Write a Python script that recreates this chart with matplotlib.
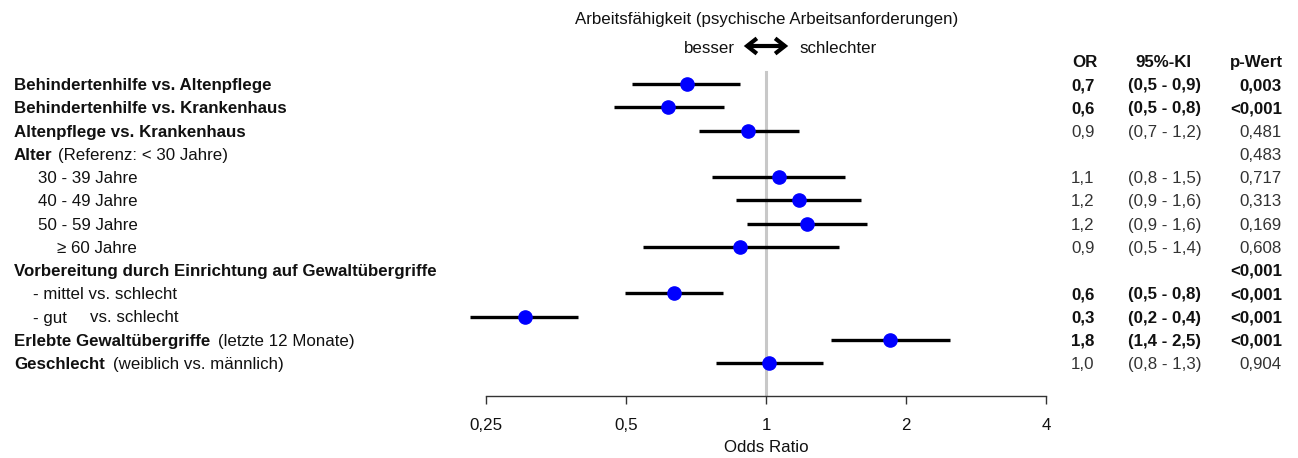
import matplotlib
matplotlib.use('Agg')
import matplotlib.pyplot as plt
import matplotlib.transforms as mtransforms
from matplotlib.patches import FancyArrowPatch
import numpy as np

plt.rcParams['font.family'] = ['Liberation Sans', 'DejaVu Sans']
FS = 12.2

# ---------------- data ----------------
label_bold = ["Behindertenhilfe vs. Altenpflege",
              "Behindertenhilfe vs. Krankenhaus",
              "Altenpflege vs. Krankenhaus",
              "Alter", "", "", "", "",
              "Vorbereitung durch Einrichtung auf Gewaltübergriffe",
              "", "",
              "Erlebte Gewaltübergriffe",
              "Geschlecht"]
label_normal = ["", "", "",
                "(Referenz: < 30 Jahre)",
                "30 - 39 Jahre", "40 - 49 Jahre", "50 - 59 Jahre", "≥ 60 Jahre",
                "",
                "- mittel vs. schlecht", "- gut",
                "(letzte 12 Monate)",
                "(weiblich vs. männlich)"]
label_indent = [14, 14, 14, 14, 38, 38, 38, 57, 14, 33, 33, 14, 14]

nan = np.nan
or_est = [0.675, 0.617, 0.917, nan, 1.064, 1.175, 1.228, 0.881, nan, 0.633, 0.303, 1.852, 1.017]
ci_lo = [0.516, 0.470, 0.716, nan, 0.764, 0.860, 0.912, 0.543, nan, 0.497, 0.231, 1.383, 0.782]
ci_hi = [0.881, 0.814, 1.175, nan, 1.482, 1.604, 1.645, 1.432, nan, 0.810, 0.395, 2.481, 1.323]

or_text = ["0,7", "0,6", "0,9", "", "1,1", "1,2", "1,2", "0,9", "", "0,6", "0,3", "1,8", "1,0"]
ki_text = ["(0,5 - 0,9)", "(0,5 - 0,8)", "(0,7 - 1,2)", "", "(0,8 - 1,5)", "(0,9 - 1,6)",
           "(0,9 - 1,6)", "(0,5 - 1,4)", "", "(0,5 - 0,8)", "(0,2 - 0,4)", "(1,4 - 2,5)", "(0,8 - 1,3)"]
p_text = ["0,003", "<0,001", "0,481", "0,483", "0,717", "0,313", "0,169", "0,608",
          "<0,001", "<0,001", "<0,001", "<0,001", "0,904"]
row_bold = [True, True, False, False, False, False, False, False, True, True, True, True, False]

x_ticks = [0.25, 0.5, 1, 2, 4]
x_ticklabels = ["0,25", "0,5", "1", "2", "4"]

# ---------------- figure ----------------
W, H = 1298, 458
fig = plt.figure(figsize=(W / 100, H / 100), dpi=100)
ax_top_px, ax_bot_px = 60, 396
ax = fig.add_axes([486 / W, (H - ax_bot_px) / H, 560 / W, (ax_bot_px - ax_top_px) / H])
ax.set_xscale('log', base=2)
ax.set_xlim(0.25, 4)
row0_px, step_px = 84, 23.25
ax.set_ylim(1 + (ax_bot_px - row0_px) / step_px, 1 + (ax_top_px - row0_px) / step_px)

rows = np.arange(1, len(or_est) + 1)
TXT = '#111111'

# reference line at OR = 1
ax.axvline(1, ymin=0, ymax=(ax_bot_px - 72) / (ax_bot_px - ax_top_px), color='#c8c8c8', lw=2.2, zorder=1)

ax.hlines(rows, ci_lo, ci_hi, color='black', lw=2.4, zorder=2, clip_on=False)
ax.plot(or_est, rows, 'o', color='#0000ff', ms=9.5, zorder=3, clip_on=False)

for s in ['top', 'right', 'left']:
    ax.spines[s].set_visible(False)
ax.spines['bottom'].set_bounds(0.25, 4)
ax.spines['bottom'].set_color('#333333')
ax.spines['bottom'].set_linewidth(1.0)
ax.set_yticks([])
ax.set_xticks(x_ticks)
ax.set_xticklabels(x_ticklabels, fontsize=FS)
ax.minorticks_off()
ax.tick_params(axis='x', direction='out', length=6, width=1.0, color='#333333', pad=10, labelcolor=TXT)
ax.set_xlabel("Odds Ratio", fontsize=FS, labelpad=5, color=TXT)

blend = mtransforms.blended_transform_factory(fig.transFigure, ax.transData)
renderer = fig.canvas.get_renderer()

# left labels
for r, b, n, ind in zip(rows, label_bold, label_normal, label_indent):
    x = ind / W
    if b:
        t = ax.text(x, r, b, transform=blend, fontsize=FS, fontweight='bold', ha='left',
                    va='center_baseline', color=TXT, clip_on=False)
        if n:
            bb = t.get_window_extent(renderer)
            gap = 5 if b == "Alter" else 8
            ax.text((bb.x1 + gap) / W, r, n, transform=blend, fontsize=FS, ha='left',
                    va='center_baseline', color=TXT, clip_on=False)
    else:
        ax.text(x, r, n, transform=blend, fontsize=FS, ha='left', va='center_baseline',
                color=TXT, clip_on=False)
# aligned "vs. schlecht" for the "- gut" row
ax.text(90 / W, 11, "vs. schlecht", transform=blend, fontsize=FS, ha='left', va='center_baseline',
        color=TXT, clip_on=False)

# right columns
ax.text(1072 / W, 0, "OR", transform=blend, fontsize=FS, fontweight='bold', ha='left', va='center_baseline', color=TXT, clip_on=False)
ax.text(1163 / W, 0, "95%-KI", transform=blend, fontsize=FS, fontweight='bold', ha='center', va='center_baseline', color=TXT, clip_on=False)
ax.text(1283 / W, 0, "p-Wert", transform=blend, fontsize=FS, fontweight='bold', ha='right', va='center_baseline', color=TXT, clip_on=False)
for r, o, k, p, bld in zip(rows, or_text, ki_text, p_text, row_bold):
    fw = 'bold' if bld else 'normal'
    col = TXT if bld else '#333333'
    if o:
        ax.text(1071 / W, r, o, transform=blend, fontsize=FS, fontweight=fw, ha='left', va='center_baseline', color=col, clip_on=False)
    if k:
        ax.text(1128 / W, r, k, transform=blend, fontsize=FS, fontweight=fw, ha='left', va='center_baseline', color=col, clip_on=False)
    ax.text(1282 / W, r, p, transform=blend, fontsize=FS, fontweight=fw, ha='right', va='center_baseline', color=col, clip_on=False)

# title and direction
fig.text(767 / W, 1 - 18 / H, "Arbeitsfähigkeit (psychische Arbeitsanforderungen)", fontsize=FS,
         ha='center', va='center_baseline', color=TXT)
fig.text(735 / W, 1 - 47 / H, "besser", fontsize=FS, ha='right', va='center_baseline', color=TXT)
fig.text(799 / W, 1 - 47 / H, "schlechter", fontsize=FS, ha='left', va='center_baseline', color=TXT)
fig.add_artist(FancyArrowPatch((741 / W, 1 - 46 / H), (791 / W, 1 - 46 / H),
               transform=fig.transFigure, arrowstyle='<->,head_length=7,head_width=5.5',
               lw=3.0, color='black', joinstyle='miter', capstyle='butt'))

fig.savefig('out.png', dpi=100, facecolor='white')
